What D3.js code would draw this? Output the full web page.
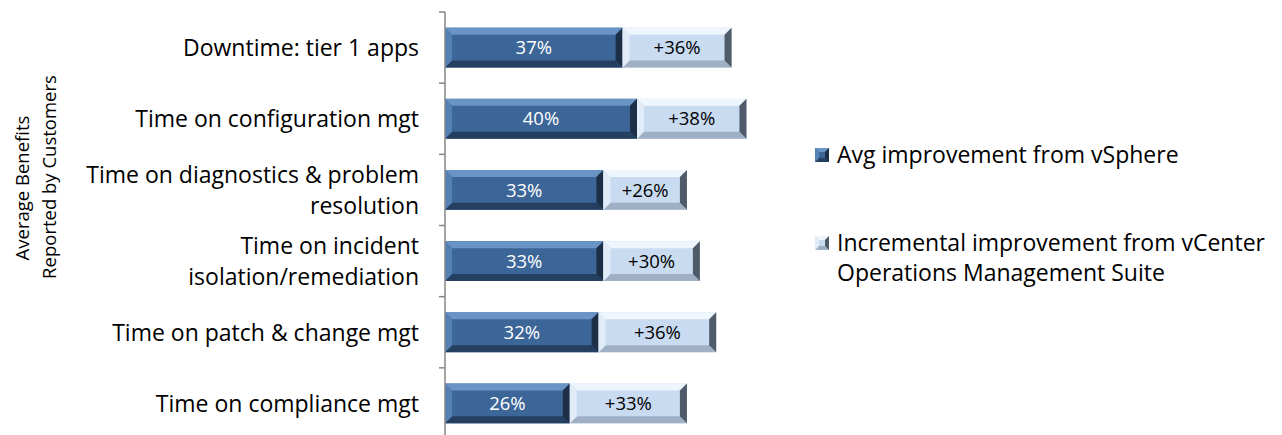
<!DOCTYPE html>
<html>
<head>
<meta charset="utf-8">
<script src="https://cdn.jsdelivr.net/npm/d3@7"></script>
<style>
  body { margin: 0; background: #fff; }
  text { font-family: "Open Sans", sans-serif; }
</style>
</head>
<body>
<div id="chart"></div>
<script>
// DATA
var categories = [
  ["Downtime: tier 1 apps"],
  ["Time on configuration mgt"],
  ["Time on diagnostics & problem", "resolution"],
  ["Time on incident", "isolation/remediation"],
  ["Time on patch & change mgt"],
  ["Time on compliance mgt"]
];
var vsphereValues = [37, 40, 33, 33, 32, 26];
// incremental segment lengths as drawn (share of the remaining time)
var incrementalValues = [22.7, 22.8, 17.4, 20.1, 24.5, 24.4];
var vsphereLabels = ["37%", "40%", "33%", "33%", "32%", "26%"];
var incrementalLabels = ["+36%", "+38%", "+26%", "+30%", "+36%", "+33%"];
var seriesNames = ["Avg improvement from vSphere", ["Incremental improvement from vCenter", "Operations Management Suite"]];

var W = 1282, H = 435;
var svg = d3.select("#chart").append("svg").attr("width", W).attr("height", H);

var x = d3.scaleLinear().domain([0, 100]).range([445, 925]);
var y = d3.scaleBand().domain(d3.range(categories.length)).range([12, 439]).paddingInner(0.44).paddingOuter(0.22);

// bevel colours: face, top, bottom, left, right
var darkCols = ["#3d6698", "#6a93c6", "#253f60", "#5580b4", "#1d2f47"];
var lightCols = ["#c8dbf1", "#eff5fc", "#9fb0c4", "#e2ecf8", "#4f5b69"];

function bevelBar(g, x0, x1, y0, h, cols, b) {
  var y1 = y0 + h;
  g.append("rect").attr("x", x0).attr("y", y0).attr("width", x1 - x0).attr("height", h).attr("fill", cols[0]);
  var polys = [
    [[x0, y0], [x1, y0], [x1 - b, y0 + b], [x0 + b, y0 + b]],
    [[x0, y1], [x1, y1], [x1 - b, y1 - b], [x0 + b, y1 - b]],
    [[x0, y0], [x0 + b, y0 + b], [x0 + b, y1 - b], [x0, y1]],
    [[x1, y0], [x1 - b, y0 + b], [x1 - b, y1 - b], [x1, y1]]
  ];
  polys.forEach(function(p, i) {
    g.append("polygon").attr("points", p.map(function(d) { return d.join(","); }).join(" ")).attr("fill", cols[i + 1]);
  });
}

var bars = svg.append("g");
categories.forEach(function(c, i) {
  var y0 = y(i), h = y.bandwidth();
  var xa = x(0), xb = x(vsphereValues[i]), xc = x(vsphereValues[i] + incrementalValues[i]);
  bevelBar(bars, xa, xb, y0, h, darkCols, 7);
  bevelBar(bars, xb, xc, y0, h, lightCols, 7);
  bars.append("text").attr("x", (xa + xb) / 2).attr("y", y0 + h / 2).attr("dy", "0.36em")
    .attr("text-anchor", "middle").attr("fill", "#fff").attr("font-size", 18.5).text(vsphereLabels[i]);
  bars.append("text").attr("x", (xb + xc) / 2).attr("y", y0 + h / 2).attr("dy", "0.36em")
    .attr("text-anchor", "middle").attr("fill", "#000").attr("font-size", 18.5).text(incrementalLabels[i]);
});

// y axis
var yTicks = d3.range(categories.length + 1).map(function(i) { return 12 + i * (427 / categories.length); });
svg.append("line").attr("x1", 445).attr("x2", 445).attr("y1", 12).attr("y2", 439)
  .attr("stroke", "#868686").attr("stroke-width", 1.5);
svg.selectAll(".tick").data(yTicks).enter().append("line")
  .attr("x1", 439).attr("x2", 445).attr("y1", function(d) { return d; }).attr("y2", function(d) { return d; })
  .attr("stroke", "#868686").attr("stroke-width", 1.5);

// category labels
categories.forEach(function(lines, i) {
  var cy = y(i) + y.bandwidth() / 2;
  var t = svg.append("text").attr("text-anchor", "end").attr("font-size", 23).attr("fill", "#000");
  var lh = 31;
  lines.forEach(function(l, j) {
    t.append("tspan").attr("x", 419).attr("y", cy + (j - (lines.length - 1) / 2) * lh).attr("dy", "0.36em").text(l);
  });
});

// y title
var yt = svg.append("text").attr("transform", "translate(0,177) rotate(-90)").attr("text-anchor", "middle")
  .attr("font-size", 18.5).attr("fill", "#000");
yt.append("tspan").attr("x", -11).attr("y", 29).text("Average Benefits");
yt.append("tspan").attr("x", 0).attr("y", 56).text("Reported by Customers");

// legend
var leg = svg.append("g");
var legY = [155, 243];
[darkCols, lightCols].forEach(function(cols, i) {
  var s = 14;
  bevelBar(leg, 815, 815 + s, legY[i] - s / 2, s, cols, 4);
  var name = [].concat(seriesNames[i]);
  var t = leg.append("text").attr("font-size", 23).attr("fill", "#000");
  name.forEach(function(l, j) {
    t.append("tspan").attr("x", 837).attr("y", legY[i] + j * 30).attr("dy", "0.36em").text(l);
  });
});
</script>
</body>
</html>
